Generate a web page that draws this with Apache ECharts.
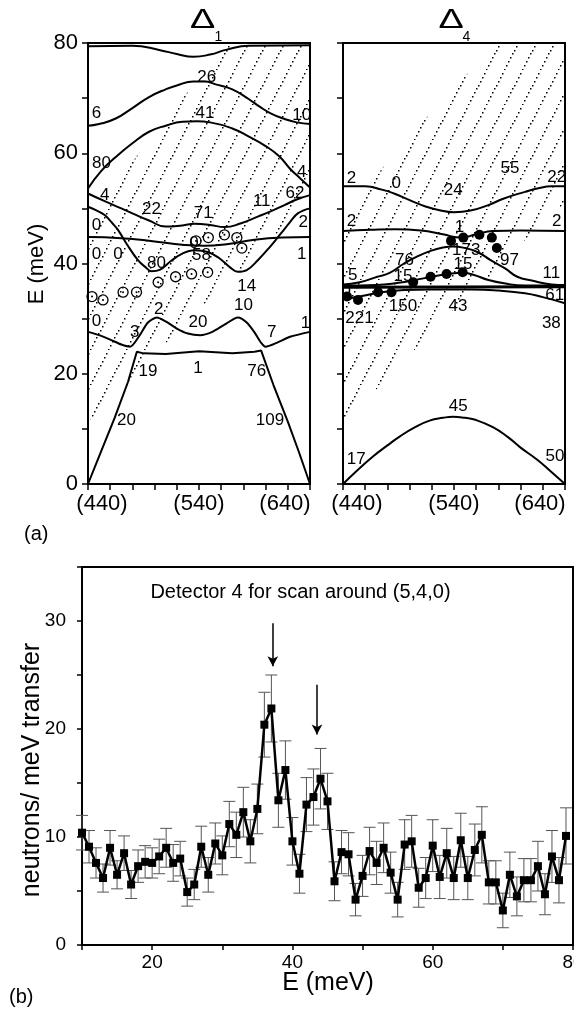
<!DOCTYPE html>
<html>
<head>
<meta charset="utf-8">
<title>Dispersion and detector scan</title>
<script src="https://cdn.jsdelivr.net/npm/echarts@6.0.0/dist/echarts.min.js"></script>
<style>
  html, body { margin: 0; padding: 0; background: #fff; }
  #chart { width: 574px; height: 1011px; }
</style>
</head>
<body>
<div id="chart"></div>
<script>
  var FONT = 'Liberation Sans, Arial, Helvetica, sans-serif'

  // (a) left panel, Delta1 branches, [q, E]
  var d1c1 = [[440, 79.4], [480, 79.5], [505, 78.7], [520, 78.0], [535, 77.5], [550, 77.9], [565, 78.8], [585, 79.5], [640, 79.6]]
  var d1c2 = [[440, 65.0], [450, 65.3], [465, 66.3], [480, 68.2], [495, 70.2], [510, 71.6], [520, 72.3], [535, 73.0], [545, 73.0], [555, 72.5], [570, 71.6], [585, 69.8], [595, 68.4], [605, 67.2], [616, 66.3], [628, 65.6], [640, 65.3]]
  var d1c3 = [[440, 53.6], [452, 56.8], [465, 59.3], [480, 61.8], [495, 63.9], [510, 65.0], [525, 65.7], [538, 65.8], [550, 65.6], [570, 64.5], [585, 63.0], [600, 61.3], [612, 59.5], [622, 57.2], [632, 55.3], [640, 53.8]]
  var d1c4 = [[440, 52.7], [455, 51.3], [470, 50.0], [480, 49.1], [495, 47.8], [510, 46.7], [525, 46.9], [536, 47.2], [550, 47.0], [563, 46.6], [578, 47.3], [593, 48.5], [605, 49.5], [617, 50.6], [628, 51.6], [640, 52.4]]
  var d1c5 = [[440, 50.3], [448, 49.6], [455, 48.8], [462, 47.3], [467, 46.1], [475, 43.5], [485, 40.6], [492, 39.3], [497, 38.6], [505, 38.9], [515, 40.5], [525, 41.8], [536, 42.4], [548, 42.1], [558, 41.0], [568, 39.3], [575, 38.5], [583, 38.8], [593, 40.6], [603, 42.8], [614, 45.5], [622, 47.5], [629, 49.1], [640, 50.0]]
  var d1c6 = [[440, 44.8], [470, 44.6], [500, 44.0], [525, 43.4], [545, 43.2], [565, 43.5], [590, 44.3], [615, 44.7], [640, 44.8]]
  var d1c7 = [[440, 27.6], [450, 27.0], [460, 26.2], [470, 25.3], [478, 24.9], [486, 26.8], [494, 29.3], [502, 30.2], [510, 29.5], [520, 28.2], [530, 27.3], [541, 27.0], [552, 27.6], [563, 28.9], [575, 30.2], [583, 29.3], [590, 27.5], [596, 25.6], [600, 24.9], [610, 25.6], [622, 26.7], [640, 27.6]]
  var d1c8 = [[440, 0], [452, 6.0], [464, 12.0], [476, 18.5], [484, 24.0], [490, 23.7], [510, 23.6], [540, 24.1], [570, 23.7], [590, 24.0], [596, 24.2], [607, 18.0], [620, 11.3], [630, 5.8], [640, 0]]

  // (a) right panel, Delta4 branches
  var d4c1 = [[440, 54.0], [460, 54.0], [475, 53.4], [486, 52.7], [500, 51.5], [515, 50.3], [526, 49.7], [540, 49.3], [555, 49.6], [571, 50.6], [585, 51.8], [604, 53.0], [615, 53.6], [628, 54.0], [640, 54.0]]
  var d4c2 = [[440, 45.9], [465, 46.1], [487, 46.2], [510, 46.0], [530, 45.3], [546, 44.7], [560, 45.3], [575, 45.9], [600, 46.0], [640, 45.9]]
  var d4c3 = [[440, 36.2], [455, 36.6], [471, 37.6], [482, 38.3], [495, 40.0], [507, 41.3], [519, 42.3], [530, 42.9], [539, 43.1], [550, 42.8], [562, 42.0], [573, 40.6], [586, 39.1], [597, 37.6], [610, 36.9], [628, 36.2], [640, 36.1]]
  var d4c4 = [[440, 36.0], [470, 36.1], [490, 36.5], [505, 37.0], [520, 37.6], [535, 38.1], [548, 38.3], [558, 37.9], [571, 37.0], [585, 36.4], [604, 36.0], [640, 36.0]]
  var d4c5 = [[440, 35.7], [640, 35.8]]
  var d4c6 = [[440, 33.5], [455, 34.0], [470, 34.6], [495, 35.2], [520, 35.3], [556, 35.3], [580, 35.1], [604, 34.6], [620, 33.9], [640, 32.8]]
  var d4c7 = [[440, 0], [453, 2.5], [467, 5.0], [480, 7.0], [491, 8.6], [505, 10.3], [518, 11.5], [530, 12.0], [539, 12.2], [550, 12.0], [560, 11.6], [575, 10.3], [588, 8.6], [600, 6.6], [615, 4.4], [627, 2.3], [640, 0]]

  // measured peak positions (open circles left, filled dots right)
  var peakPoints = [[443.6, 34.0], [453.5, 33.4], [471.6, 34.8], [483.7, 34.8], [503.2, 36.6], [518.9, 37.6], [533.3, 38.1], [547.8, 38.4], [537.3, 44.1], [548.4, 44.7], [562.9, 45.2], [574.1, 44.7], [578.6, 42.8]]

  // hatched region edges
  var bandLower = [[440, 11.3], [476, 18.3], [536, 31.0], [572, 37.6], [605, 44.5], [640, 51.0]]
  var bandUpperD1 = [[440, 47.5], [488, 60.6], [565, 80]]
  var bandUpperD4 = [[440, 48.0], [488, 60.6], [578, 80]]

  // branch annotations [q, E, text]
  var d1Labels = [[546.9, 73.8, '26'], [447.6, 67.2, '6'], [545.3, 67.2, '41'], [632.6, 66.9, '10'], [452.1, 58.2, '80'], [455, 52.4, '4'], [497.2, 49.8, '22'], [543.8, 49.1, '71'], [596.5, 51.2, '11'], [626.5, 52.8, '62'], [632.6, 56.6, '4'], [447.6, 47.0, '0'], [634, 47.4, '2'], [535.5, 43.6, '0'], [447.6, 41.7, '0'], [467, 41.7, '0'], [501.7, 40.0, '80'], [542.3, 41.4, '58'], [632.6, 41.7, '1'], [583, 35.8, '14'], [580, 32.5, '10'], [447.6, 29.5, '0'], [503.8, 31.6, '2'], [482, 27.5, '3'], [539, 29.3, '20'], [605.5, 27.6, '7'], [636, 29.2, '1'], [474.6, 11.6, '20'], [494, 20.4, '19'], [539, 21.0, '1'], [592, 20.4, '76'], [604, 11.6, '109']]
  var d4Labels = [[447.6, 55.4, '2'], [488, 54.5, '0'], [539.3, 53.2, '24'], [590.5, 57.2, '55'], [632.6, 55.7, '22'], [447.6, 47.6, '2'], [632.6, 47.6, '2'], [545, 46.5, '1'], [495.4, 40.6, '76'], [551, 42.4, '173'], [548, 39.9, '15'], [494, 37.7, '15'], [590, 40.6, '97'], [627.7, 38.2, '11'], [448.8, 37.9, '5'], [443, 35.0, '0'], [630.8, 34.3, '61'], [627.7, 29.2, '38'], [454.8, 30.1, '221'], [494, 32.2, '150'], [543.5, 32.2, '43'], [543.8, 14.1, '45'], [452, 4.4, '17'], [631, 5.0, '50']]

  var qTickValues = [440, 540, 640]
  var qTickLabels = ['(440)', '(540)', '(640)']

  // (b) detector 4 scan
  var energies = [10, 11, 12, 13, 14, 15, 16, 17, 18, 19, 20, 21, 22, 23, 24, 25, 26, 27, 28, 29, 30, 31, 32, 33, 34, 35, 36, 37, 38, 39, 40, 41, 42, 43, 44, 45, 46, 47, 48, 49, 50, 51, 52, 53, 54, 55, 56, 57, 58, 59, 60, 61, 62, 63, 64, 65, 66, 67, 68, 69, 70, 71, 72, 73, 74, 75, 76, 77, 78, 79]
  var counts = [10.4, 9.1, 7.6, 6.2, 9.0, 6.5, 8.5, 5.6, 7.3, 7.7, 7.6, 8.2, 9.0, 7.6, 8.0, 4.9, 5.6, 9.1, 6.5, 9.4, 8.3, 11.2, 10.2, 12.3, 9.6, 12.6, 20.4, 21.9, 13.4, 16.2, 9.6, 6.6, 13.0, 13.7, 15.4, 13.3, 5.9, 8.6, 8.4, 4.2, 6.4, 8.7, 7.6, 9.0, 6.7, 4.2, 9.3, 9.6, 5.3, 6.2, 9.2, 6.3, 8.5, 6.2, 9.7, 6.2, 8.8, 10.2, 5.8, 5.8, 3.2, 6.5, 4.5, 6.0, 6.0, 7.3, 4.7, 8.2, 6.0, 10.1]
  var errors = [1.6, 1.5, 1.4, 1.3, 1.6, 1.3, 1.6, 1.3, 1.5, 1.5, 1.4, 1.6, 1.8, 1.7, 1.6, 1.3, 1.4, 1.9, 1.6, 1.9, 1.8, 2.1, 2.1, 2.3, 2.0, 2.3, 3.0, 3.1, 2.5, 2.7, 2.2, 1.8, 2.5, 2.6, 2.8, 2.6, 1.8, 2.0, 2.0, 1.5, 1.9, 2.2, 2.0, 2.3, 1.9, 1.6, 2.3, 2.4, 1.8, 1.9, 2.4, 2.0, 2.3, 2.0, 2.5, 2.0, 2.4, 2.6, 2.0, 2.0, 1.6, 2.1, 1.8, 2.0, 2.0, 2.3, 1.9, 2.4, 2.1, 2.6]
  var arrowE = [37.2, 43.5]
  var arrowTop = [29.8, 24.1]
  var arrowTip = [25.8, 19.5]

  // dotted diagonal hatch tile
  function makeHatch() {
    var w = 18
    var h = 35
    var c = document.createElement('canvas')
    c.width = w
    c.height = h
    var ctx = c.getContext('2d')
    ctx.fillStyle = '#000'
    var n = 9
    for (var i = 0; i < n; i++) {
      var t = i / n
      ctx.fillRect(Math.round(t * w), Math.round(h - t * h) - 1, 1.5, 1.5)
    }
    return { image: c, repeat: 'repeat' }
  }
  var hatch = makeHatch()

  function bandPolygon(upper) {
    return bandLower.concat([[640, 80]], upper.slice().reverse())
  }

  function hatchSeries(poly, gi) {
    return {
      type: 'custom',
      xAxisIndex: gi,
      yAxisIndex: gi,
      silent: true,
      z: 1,
      data: [[540, 40]],
      renderItem: function (params, api) {
        var pts = poly.map(function (p) { return api.coord(p) })
        return { type: 'polygon', shape: { points: pts }, style: { fill: hatch, stroke: null } }
      }
    }
  }

  function curveSeries(data, gi, smooth, width) {
    return {
      type: 'line',
      xAxisIndex: gi,
      yAxisIndex: gi,
      data: data,
      smooth: smooth,
      showSymbol: false,
      silent: true,
      z: 2,
      lineStyle: { color: '#000', width: width || 2 }
    }
  }

  function labelSeries(list, gi) {
    return {
      type: 'scatter',
      xAxisIndex: gi,
      yAxisIndex: gi,
      symbolSize: 1,
      silent: true,
      z: 5,
      itemStyle: { color: 'rgba(0,0,0,0)', opacity: 1 },
      label: { show: true, position: 'inside', formatter: '{b}', color: '#000', fontSize: 17, fontFamily: FONT },
      data: list.map(function (l) { return { name: l[2], value: [l[0], l[1]] } })
    }
  }

  function qAxis(gi) {
    return {
      type: 'value',
      gridIndex: gi,
      min: 440,
      max: 640,
      interval: 20,
      axisLine: { lineStyle: { color: '#000', width: 2 } },
      axisTick: { length: 6, lineStyle: { color: '#000', width: 1.5 } },
      splitLine: { show: false },
      axisLabel: {
        color: '#000',
        fontSize: 22,
        fontFamily: FONT,
        margin: 9,
        formatter: function (v) {
          var i = qTickValues.indexOf(v)
          if (i < 0) return ''
          if (i === 0) return '{lo|' + qTickLabels[i] + '}'
          if (i === qTickValues.length - 1) return '{hi|' + qTickLabels[i] + '}'
          return qTickLabels[i]
        },
        rich: {
          lo: { fontSize: 22, fontFamily: FONT, color: '#000', padding: [0, 0, 0, 28] },
          hi: { fontSize: 22, fontFamily: FONT, color: '#000', padding: [0, 50, 0, 0] }
        }
      }
    }
  }

  function eAxis(gi, labels) {
    return {
      type: 'value',
      gridIndex: gi,
      min: 0,
      max: 80,
      interval: 10,
      axisLine: { lineStyle: { color: '#000', width: 2 } },
      axisTick: { length: 6, lineStyle: { color: '#000', width: 1.5 } },
      splitLine: { show: false },
      axisLabel: {
        show: labels,
        color: '#000',
        fontSize: 22,
        fontFamily: FONT,
        margin: 10,
        formatter: function (v) { return v % 20 === 0 ? v : '' }
      }
    }
  }

  var frame = { show: true, borderColor: '#000', borderWidth: 2, backgroundColor: 'transparent', containLabel: false, outerBoundsMode: 'none' }

  var scanData = energies.map(function (e, i) { return [e, counts[i]] })
  var errData = energies.map(function (e, i) { return [e, counts[i], errors[i]] })

  var series = [
    hatchSeries(bandPolygon(bandUpperD1), 0),
    hatchSeries(bandPolygon(bandUpperD4), 1),
    curveSeries(d1c1, 0, 0.5),
    curveSeries(d1c2, 0, 0.5),
    curveSeries(d1c3, 0, 0.5),
    curveSeries(d1c4, 0, 0.5),
    curveSeries(d1c5, 0, 0.4),
    curveSeries(d1c6, 0, 0.5),
    curveSeries(d1c7, 0, 0.25),
    curveSeries(d1c8, 0, false),
    curveSeries(d4c1, 1, 0.5),
    curveSeries(d4c2, 1, 0.5),
    curveSeries(d4c3, 1, 0.5),
    curveSeries(d4c4, 1, 0.5),
    curveSeries(d4c5, 1, false, 3),
    curveSeries(d4c6, 1, 0.5),
    curveSeries(d4c7, 1, 0.5),
    labelSeries(d1Labels, 0),
    labelSeries(d4Labels, 1),
    {
      type: 'scatter',
      xAxisIndex: 0,
      yAxisIndex: 0,
      symbol: 'circle',
      symbolSize: 10,
      silent: true,
      z: 6,
      itemStyle: { color: 'rgba(255,255,255,0)', borderColor: '#000', borderWidth: 1.3, opacity: 1 },
      data: peakPoints
    },
    {
      type: 'scatter',
      xAxisIndex: 0,
      yAxisIndex: 0,
      symbolSize: 2,
      silent: true,
      z: 6,
      itemStyle: { color: '#000', opacity: 1 },
      data: peakPoints
    },
    {
      type: 'scatter',
      xAxisIndex: 1,
      yAxisIndex: 1,
      symbol: 'circle',
      symbolSize: 10,
      silent: true,
      z: 6,
      itemStyle: { color: '#000', opacity: 1 },
      data: peakPoints
    },
    // error bars
    {
      type: 'custom',
      xAxisIndex: 2,
      yAxisIndex: 2,
      silent: true,
      z: 2,
      data: errData,
      renderItem: function (params, api) {
        var x = api.value(0)
        var y = api.value(1)
        var e = api.value(2)
        var top = api.coord([x, y + e])
        var bot = api.coord([x, y - e])
        var w = 6
        var st = { stroke: '#555', lineWidth: 1 }
        return {
          type: 'group',
          children: [
            { type: 'line', shape: { x1: top[0], y1: top[1], x2: bot[0], y2: bot[1] }, style: st },
            { type: 'line', shape: { x1: top[0] - w, y1: top[1], x2: top[0] + w, y2: top[1] }, style: st },
            { type: 'line', shape: { x1: bot[0] - w, y1: bot[1], x2: bot[0] + w, y2: bot[1] }, style: st }
          ]
        }
      }
    },
    {
      type: 'line',
      xAxisIndex: 2,
      yAxisIndex: 2,
      data: scanData,
      symbol: 'rect',
      symbolSize: 8,
      silent: true,
      z: 3,
      lineStyle: { color: '#000', width: 2.5 },
      itemStyle: { color: '#000' },
      markLine: {
        silent: true,
        symbol: ['none', 'arrow'],
        symbolSize: [8, 10],
        label: { show: false },
        lineStyle: { color: '#000', width: 1.5, type: 'solid' },
        data: arrowE.map(function (x, i) {
          return [{ coord: [x, arrowTop[i]] }, { coord: [x, arrowTip[i]] }]
        })
      }
    }
  ]

  var textStyle = function (text, size, align) {
    return { text: text, font: size + 'px ' + FONT, fill: '#000', textAlign: align, textVerticalAlign: 'middle', align: align, verticalAlign: 'middle' }
  }

  var chart = echarts.init(document.getElementById('chart'), null, { renderer: 'canvas' })
  chart.setOption({
    animation: false,
    backgroundColor: '#fff',
    textStyle: { fontFamily: FONT },
    grid: [
      Object.assign({ left: 88, top: 43, width: 222, height: 441 }, frame),
      Object.assign({ left: 343, top: 43, width: 222, height: 441 }, frame),
      Object.assign({ left: 82, top: 567, width: 491, height: 378 }, frame)
    ],
    xAxis: [
      qAxis(0),
      qAxis(1),
      {
        type: 'value',
        gridIndex: 2,
        min: 10,
        max: 80,
        interval: 10,
        axisLine: { lineStyle: { color: '#000', width: 2 } },
        axisTick: { length: 5, lineStyle: { color: '#000', width: 1.5 } },
        splitLine: { show: false },
        axisLabel: {
          color: '#000',
          fontSize: 19,
          fontFamily: FONT,
          margin: 8,
          formatter: function (v) { return v % 20 === 0 ? v : '' }
        }
      }
    ],
    yAxis: [
      eAxis(0, true),
      eAxis(1, false),
      {
        type: 'value',
        gridIndex: 2,
        min: 0,
        max: 35,
        interval: 5,
        axisLine: { lineStyle: { color: '#000', width: 2 } },
        axisTick: { length: 5, lineStyle: { color: '#000', width: 1.5 } },
        splitLine: { show: false },
        axisLabel: {
          color: '#000',
          fontSize: 19,
          fontFamily: FONT,
          margin: 16,
          formatter: function (v) { return v % 10 === 0 ? v : '' }
        }
      }
    ],
    graphic: [
      { type: 'text', x: 202.5, y: 21, scaleX: 1.4, style: textStyle('Δ', 27, 'center') },
      { type: 'text', x: 218.5, y: 37, style: textStyle('1', 14, 'center') },
      { type: 'text', x: 451, y: 21, scaleX: 1.4, style: textStyle('Δ', 27, 'center') },
      { type: 'text', x: 466.5, y: 37, style: textStyle('4', 14, 'center') },
      { type: 'text', x: 37, y: 264, rotation: Math.PI / 2, style: textStyle('E (meV)', 22, 'center') },
      { type: 'text', x: 24, y: 534, style: textStyle('(a)', 20, 'left') },
      { type: 'text', x: 300.5, y: 592, style: textStyle('Detector 4 for scan around (5,4,0)', 20, 'center') },
      { type: 'text', x: 32, y: 770, rotation: Math.PI / 2, style: textStyle('neutrons/ meV transfer', 25, 'center') },
      { type: 'text', x: 328, y: 983, style: textStyle('E (meV)', 25, 'center') },
      { type: 'text', x: 9, y: 997, style: textStyle('(b)', 20, 'left') }
    ],
    series: series
  })
</script>
</body>
</html>
